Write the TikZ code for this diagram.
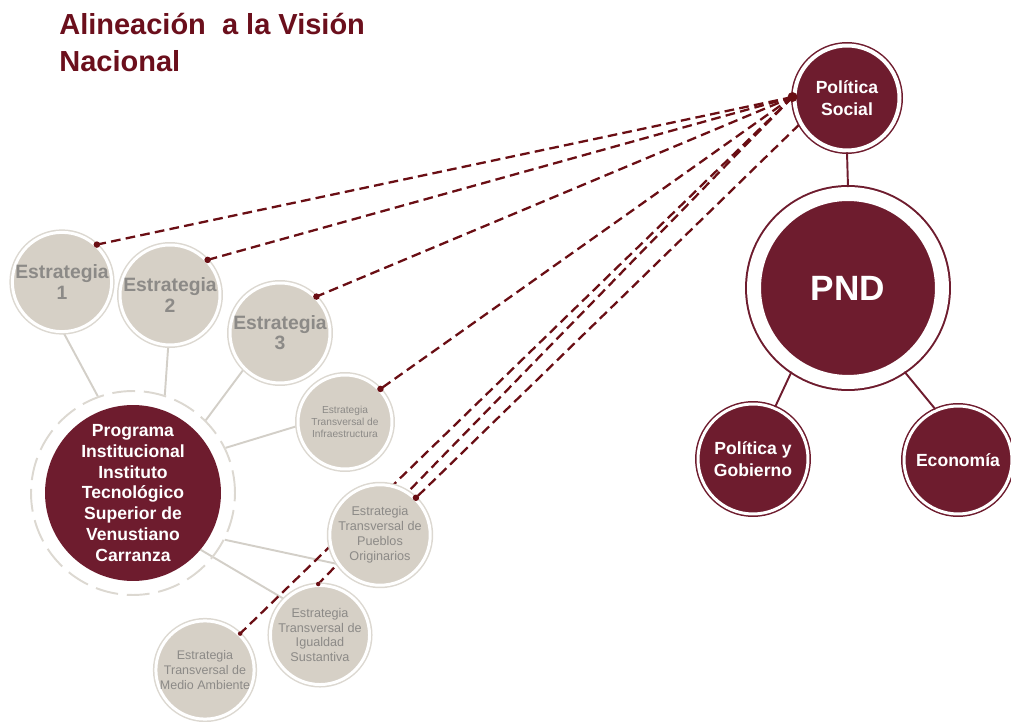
\documentclass[tikz,border=0pt]{standalone}
\usepackage{fontspec}
\setmainfont{Liberation Sans}
\usetikzlibrary{backgrounds}

\definecolor{vino}{HTML}{6E1C2E}
\definecolor{titulo}{HTML}{6B0F1C}
\definecolor{punteado}{HTML}{6A0E14}
\definecolor{arena}{HTML}{D6D0C6}
\definecolor{anillo}{HTML}{DCD8D1}
\definecolor{textogris}{HTML}{8C8A87}
\definecolor{linea}{HTML}{D3CFC8}

\begin{document}
\begin{tikzpicture}[x=0.02cm, y=-0.02cm,
    vino circ/.style={circle, fill=vino, draw=white, text=white, align=center, inner sep=0pt},
    borde/.style 2 args={line width=#1, preaction={draw=vino, line width=#2}},
    arena circ/.style={circle, fill=arena, draw=white, text=textogris, align=center, inner sep=0pt,
        line width=0.06cm, preaction={draw=anillo, line width=0.12cm}},
    rama/.style={draw=linea, line width=1.1pt},
    enlace/.style={draw=vino, line width=1.1pt},
    guia/.style={draw=punteado, line width=1.3pt, dash pattern=on 5.5pt off 3pt},
    punto/.style={fill=punteado}]
		\useasboundingbox (0,0) rectangle (1011,722);

		% title
		\node[anchor=north west, align=left, inner sep=0pt, text=titulo,
			font=\bfseries\fontsize{16.5}{21}\selectfont] (titulo) at (59,13)
			{Alineación\ \ a la Visión\\Nacional};

		% national plan
		\node[vino circ, borde={0.08cm}{0.14cm}, minimum size=2.1cm,
			font=\bfseries\fontsize{10}{12.5}\selectfont] (ps) at (847,98) {Política\\Social};
		\node[vino circ, borde={0.28cm}{0.36cm}, minimum size=3.76cm,
			font=\bfseries\fontsize{20}{24}\selectfont] (pnd) at (848,288) {PND};
		\node[vino circ, borde={0.06cm}{0.12cm}, minimum size=2.2cm,
			font=\bfseries\fontsize{10}{12.5}\selectfont] (pyg) at (753,459) {Política y\\Gobierno};
		\node[vino circ, borde={0.06cm}{0.12cm}, minimum size=2.16cm,
			font=\bfseries\fontsize{10}{12.5}\selectfont] (eco) at (958,460) {Economía};

		\draw[enlace] (ps.south) -- (pnd.north);
		\draw[enlace] (pnd.236) -- (pyg.67);
		\draw[enlace] (pnd.304) -- (eco.114);

		% institutional program
		\node[vino circ, draw=none, minimum size=3.52cm,
			font=\bfseries\fontsize{10}{11.8}\selectfont] (prog) at (133,493)
			{Programa\\Institucional\\Instituto\\Tecnológico\\Superior de\\Venustiano\\Carranza};
		\node[circle, draw=anillo, line width=1.1pt, dash pattern=on 13pt off 5pt,
			minimum size=4.08cm, inner sep=0pt] (progaro) at (prog) {};

		% strategies
		\node[arena circ, minimum size=1.88cm, font=\bfseries\fontsize{11}{11.5}\selectfont] (e1) at (62,282) {Estrategia\\1};
		\node[arena circ, minimum size=2cm, font=\bfseries\fontsize{11}{11.5}\selectfont] (e2) at (170,295) {Estrategia\\2};
		\node[arena circ, minimum size=2cm, font=\bfseries\fontsize{11}{11.5}\selectfont] (e3) at (280,333) {Estrategia\\3};
		\node[arena circ, minimum size=1.88cm, font=\fontsize{5.8}{7}\selectfont] (infra) at (345,422)
			{Estrategia\\Transversal de\\Infraestructura};
		\node[arena circ, minimum size=2cm, font=\fontsize{7.2}{8.5}\selectfont] (pueblos) at (380,535)
			{Estrategia\\Transversal de\\Pueblos\\Originarios};
		\node[arena circ, minimum size=1.88cm, font=\fontsize{7.2}{8.5}\selectfont] (igualdad) at (320,635)
			{Estrategia\\Transversal de\\Igualdad\\Sustantiva};
		\node[arena circ, minimum size=1.96cm, font=\fontsize{7.1}{8.5}\selectfont] (medio) at (205,670)
			{Estrategia\\Transversal de\\Medio Ambiente};

		\begin{scope}[on background layer]
			% branches of the program
			\draw[rama] (progaro.110) -- (e1.272);
			\draw[rama] (progaro.72) -- (e2.268);
			\draw[rama] (progaro.45) -- (e3.225);
			\draw[rama] (progaro.26) -- (infra.185);
			\draw[rama] (progaro.-27) -- (pueblos.214);
			\draw[rama] (prog.-40) -- (igualdad.135);

			% alignment with the social policy
			\draw[guia] (ps.179) -- (e1.47);
			\draw[guia] (ps.179) -- (e2.43);
			\draw[guia] (ps.179) -- (e3.45);
			\draw[guia] (ps.179) -- (infra.43);
			\draw[guia] (ps.179) -- (igualdad.92);
			\draw[guia] (ps.179) -- (medio.46);
			\draw[guia] (ps.209) -- (pueblos.46);
		\end{scope}

		% end points
		\fill[punto] (ps.179) circle[radius=0.1cm];
		\foreach \p in {e1.47, e2.43, e3.45, infra.43, pueblos.46}
			\fill[punto] (\p) circle[radius=0.065cm];
		\fill[punto] (igualdad.92) circle[radius=0.045cm];
		\fill[punto] (medio.46) circle[radius=0.045cm];
	\end{tikzpicture}
\end{document}
